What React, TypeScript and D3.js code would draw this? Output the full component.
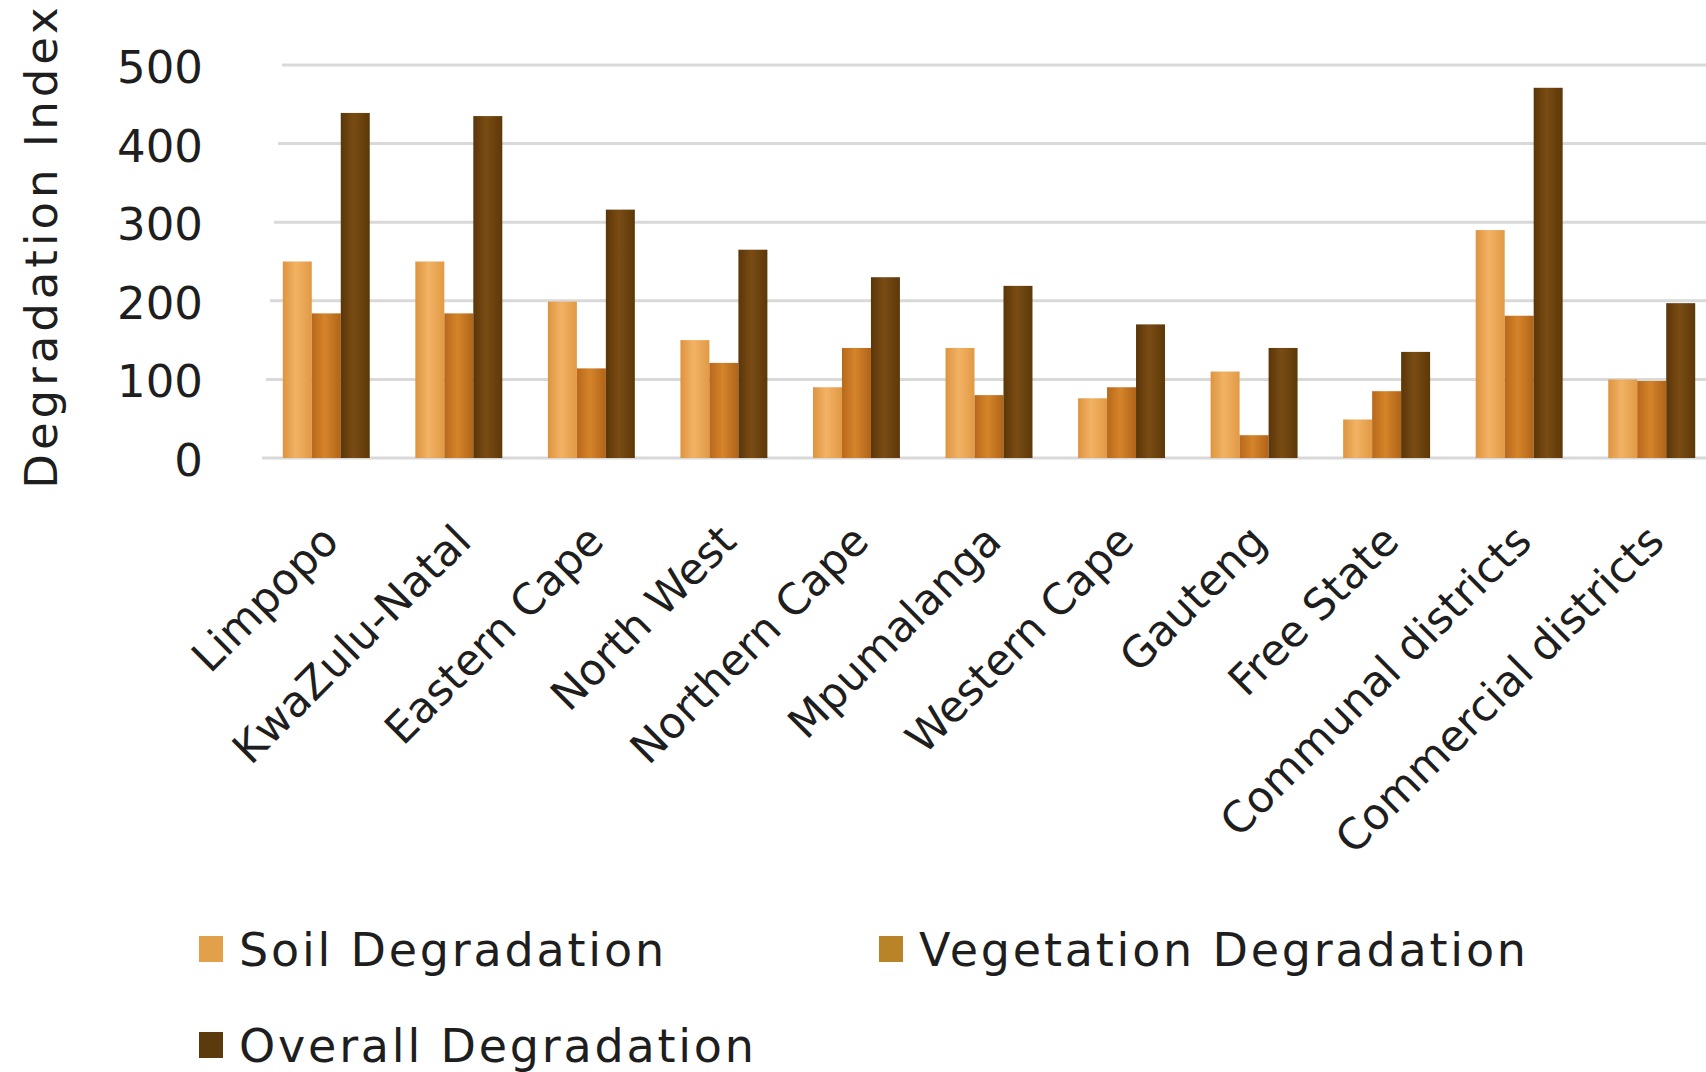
import React, { useRef, useEffect } from "react";
import * as d3 from "d3";

// data
const regions = [
  "Limpopo",
  "KwaZulu-Natal",
  "Eastern Cape",
  "North West",
  "Northern Cape",
  "Mpumalanga",
  "Western Cape",
  "Gauteng",
  "Free State",
  "Communal districts",
  "Commercial districts",
];
const seriesNames = ["Soil Degradation", "Vegetation Degradation", "Overall Degradation"];
const soil = [250, 250, 199, 150, 90, 140, 76, 110, 49, 290, 100];
const vegetation = [184, 184, 114, 121, 140, 80, 90, 29, 85, 181, 98];
const overall = [439, 435, 316, 265, 230, 219, 170, 140, 135, 471, 197];
const yTicks = [0, 100, 200, 300, 400, 500];
const yTitle = "Degradation  Index";

const W = 1706;
const H = 1072;
const font = "'DejaVu Sans', Verdana, sans-serif";

// gradient stops per series: edge, middle, edge
const barColors = [
  ["#dd9440", "#f2b264", "#e19a45"],
  ["#b8681a", "#d5842a", "#b06418"],
  ["#5a3608", "#7a4c14", "#5c3808"],
];
const legendColors = ["#e3a04a", "#b98328", "#5b3a0e"];

function App() {
  const ref = useRef<SVGSVGElement>(null);

  useEffect(() => {
    const svg = d3.select(ref.current);
    svg.selectAll("*").remove();

    const series = [soil, vegetation, overall];

    const x = d3
      .scaleBand<string>()
      .domain(regions)
      .range([260, 1718])
      .paddingInner(0.344)
      .paddingOuter(0.172);
    const xs = d3
      .scaleBand<number>()
      .domain(d3.range(series.length))
      .range([0, x.bandwidth()]);
    const y = d3.scaleLinear().domain([0, 500]).range([458, 65]);

    const defs = svg.append("defs");
    barColors.forEach((c, i) => {
      const g = defs
        .append("linearGradient")
        .attr("id", "bar" + i)
        .attr("x1", "0")
        .attr("x2", "1")
        .attr("y1", "0")
        .attr("y2", "0");
      g.append("stop").attr("offset", "0%").attr("stop-color", c[0]);
      g.append("stop").attr("offset", "45%").attr("stop-color", c[1]);
      g.append("stop").attr("offset", "100%").attr("stop-color", c[2]);
    });

    // gridlines
    svg
      .append("g")
      .selectAll("line")
      .data(yTicks)
      .join("line")
      .attr("x1", (d) => 262 + d * 0.04)
      .attr("x2", W)
      .attr("y1", (d) => y(d))
      .attr("y2", (d) => y(d))
      .attr("stroke", "#d9d9d9")
      .attr("stroke-width", 3);

    // y tick labels
    svg
      .append("g")
      .selectAll("text")
      .data(yTicks)
      .join("text")
      .attr("x", 203)
      .attr("y", (d) => y(d))
      .attr("dy", "0.4em")
      .attr("text-anchor", "end")
      .attr("font-family", font)
      .attr("font-size", 45)
      .attr("fill", "#1e1e1e")
      .text((d) => d);

    // y title
    svg
      .append("text")
      .attr("transform", `translate(57,246) rotate(-90)`)
      .attr("text-anchor", "middle")
      .attr("font-family", font)
      .attr("font-size", 45)
      .attr("letter-spacing", 4)
      .attr("fill", "#1e1e1e")
      .text(yTitle);

    // bars
    const groups = svg
      .append("g")
      .selectAll("g")
      .data(regions)
      .join("g")
      .attr("transform", (d) => `translate(${x(d)},0)`);
    groups
      .selectAll("rect")
      .data((d, i) => series.map((s, k) => ({ k, v: s[i] })))
      .join("rect")
      .attr("x", (d) => xs(d.k)!)
      .attr("width", xs.bandwidth())
      .attr("y", (d) => y(d.v))
      .attr("height", (d) => y(0) - y(d.v))
      .attr("fill", (d) => `url(#bar${d.k})`);

    // x labels
    svg
      .append("g")
      .selectAll("text")
      .data(regions)
      .join("text")
      .attr(
        "transform",
        (d) => `translate(${x(d)! + x.bandwidth() / 2 + 4},533) rotate(-45)`
      )
      .attr("text-anchor", "end")
      .attr("dominant-baseline", "central")
      .attr("font-family", font)
      .attr("font-size", 43)
      .attr("fill", "#1e1e1e")
      .text((d) => d);

    // legend
    const legendPos = [
      [199, 949],
      [879, 949],
      [199, 1045],
    ];
    const legend = svg
      .append("g")
      .selectAll("g")
      .data(seriesNames)
      .join("g")
      .attr("transform", (d, i) => `translate(${legendPos[i][0]},${legendPos[i][1]})`);
    legend
      .append("rect")
      .attr("x", 0)
      .attr("y", -13)
      .attr("width", 24)
      .attr("height", 26)
      .attr("fill", (d, i) => legendColors[i]);
    legend
      .append("text")
      .attr("x", 40)
      .attr("y", 0)
      .attr("dy", "0.36em")
      .attr("font-family", font)
      .attr("font-size", 46)
      .attr("letter-spacing", 2.8)
      .attr("fill", "#1e1e1e")
      .text((d) => d);
  }, []);

  return (
    <div style={{ position: "absolute", left: 0, top: 0, background: "#fff" }}>
      <svg ref={ref} width={W} height={H} style={{ display: "block" }}></svg>
    </div>
  );
}

export default App;
